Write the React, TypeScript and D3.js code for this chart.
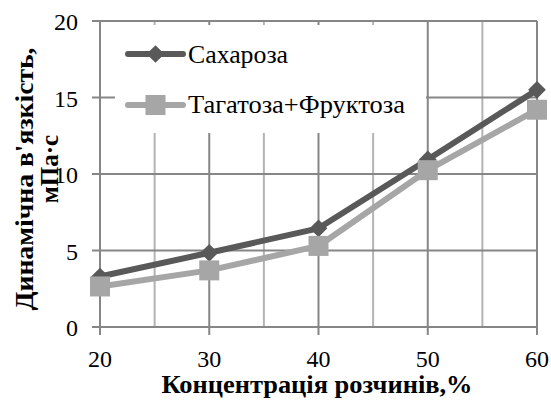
import React from 'react';
import * as d3 from 'd3';

const concentrations = [20, 30, 40, 50, 60];
const sucrose = [3.3, 4.85, 6.45, 10.95, 15.5];
const tagatoseFructose = [2.65, 3.7, 5.3, 10.25, 14.2];
const yTicks = [0, 5, 10, 15, 20];
const xTicks = [20, 30, 40, 50, 60];
const xMinor = [25, 35, 45, 55];

const W = 551;
const H = 403;
const DARK = '#595959';
const LIGHT = '#a6a6a6';
const GRID = '#868686';
const GRID_MINOR = '#b3b3b3';
const FONT = "'Liberation Serif', 'Times New Roman', serif";

const App = () => {
  const margin = { top: 21, right: 14, bottom: 76, left: 100 };
  const x = d3.scaleLinear().domain([20, 60]).range([margin.left, W - margin.right]);
  const y = d3.scaleLinear().domain([0, 20]).range([H - margin.bottom, margin.top]);

  const line = d3.line<number>()
    .x((_, i) => x(concentrations[i]))
    .y(d => y(d));

  const diamond = d3.symbol().type(d3.symbolDiamond2).size(200)() ?? '';
  const square = (cx: number, cy: number, key: string) => (
    <rect key={key} x={cx - 10} y={cy - 10} width={20} height={20} fill={LIGHT} />
  );

  // legend box, white so it hides the grid behind it
  const lg = { x: 115, y: 25, w: 311, h: 108 };
  const cy = (y(0) + y(20)) / 2;

  return (
    <svg width={W} height={H} fontFamily={FONT}
      style={{ position: 'absolute', left: 0, top: 0, background: '#fff' }}>
      {/* grid */}
      {xMinor.map(v => (
        <line key={'m' + v} x1={x(v)} x2={x(v)} y1={y(20)} y2={y(0)} stroke={GRID_MINOR} strokeWidth={2} />
      ))}
      {xTicks.map(v => (
        <line key={'x' + v} x1={x(v)} x2={x(v)} y1={y(20)} y2={y(0) + 8} stroke={GRID} strokeWidth={2} />
      ))}
      {yTicks.map(v => (
        <line key={'y' + v} x1={x(20) - 8} x2={x(60)} y1={y(v)} y2={y(v)} stroke={GRID} strokeWidth={2} />
      ))}

      {/* legend */}
      <rect x={lg.x} y={lg.y} width={lg.w} height={lg.h} fill="#fff" />
      <line x1={128} x2={183} y1={54} y2={54} stroke={DARK} strokeWidth={6} strokeLinecap="round" />
      <path d={diamond} transform="translate(155.5,54)" fill={DARK} />
      <text x={188} y={63} fontSize={25} textLength={100} lengthAdjust="spacingAndGlyphs">Сахароза</text>
      <line x1={128} x2={183} y1={105} y2={105} stroke={LIGHT} strokeWidth={6} strokeLinecap="round" />
      {square(155.5, 105, 'lsq')}
      <text x={188} y={113} fontSize={25} textLength={217} lengthAdjust="spacingAndGlyphs">Тагатоза+Фруктоза</text>

      {/* series: sucrose first, tagatose drawn over it */}
      <path d={line(sucrose) ?? ''} fill="none" stroke={DARK} strokeWidth={6} strokeLinejoin="round" />
      {sucrose.map((v, i) => (
        <path key={'d' + i} d={diamond} transform={`translate(${x(concentrations[i])},${y(v)})`} fill={DARK} />
      ))}
      <path d={line(tagatoseFructose) ?? ''} fill="none" stroke={LIGHT} strokeWidth={6} strokeLinejoin="round" />
      {tagatoseFructose.map((v, i) => square(x(concentrations[i]), y(v), 's' + i))}

      {/* tick labels */}
      {yTicks.map(v => (
        <text key={'yl' + v} x={78} y={y(v) + 9} textAnchor="end" fontSize={24}>{v}</text>
      ))}
      {xTicks.map(v => (
        <text key={'xl' + v} x={x(v)} y={y(0) + 40} textAnchor="middle" fontSize={24}>{v}</text>
      ))}

      {/* axis titles */}
      <text x={317} y={393} textAnchor="middle" fontSize={26} fontWeight="bold"
        textLength={311} lengthAdjust="spacingAndGlyphs">
        Концентрація розчинів,%
      </text>
      <g transform={`translate(0,${cy}) rotate(-90)`}>
        <text x={-5} y={33} textAnchor="middle" fontSize={25} fontWeight="bold"
          textLength={263} lengthAdjust="spacingAndGlyphs">
          Динамічна в'язкість,
        </text>
        <text x={5} y={58} textAnchor="middle" fontSize={25} fontWeight="bold">
          мПа·с
        </text>
      </g>
    </svg>
  );
};

export default App;
